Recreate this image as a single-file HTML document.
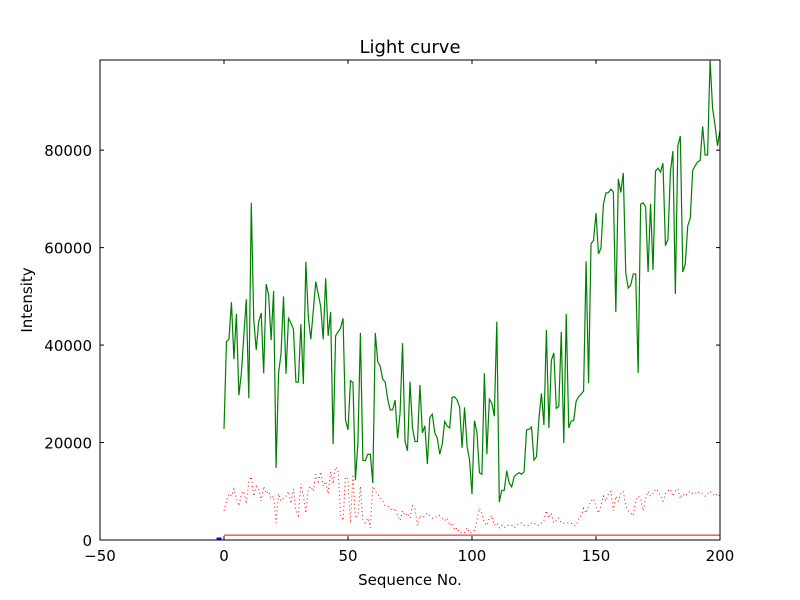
<!DOCTYPE html>
<html><head><meta charset="utf-8"><style>
body{margin:0;background:#fff;}
svg{display:block;font-family:"DejaVu Sans","Liberation Sans",sans-serif;}
</style></head><body>
<svg id="chart" width="800" height="600" xmlns="http://www.w3.org/2000/svg">
<rect width="800" height="600" fill="#fff"/>
<text x="410" y="53" font-size="18" text-anchor="middle">Light curve</text>
<text x="410" y="585" font-size="15" text-anchor="middle">Sequence No.</text>
<text transform="translate(32,300) rotate(-90)" font-size="15" text-anchor="middle">Intensity</text>
<g id="plot"></g>
</svg>
<script>
const xTicks=[-50,0,50,100,150,200];
const yTicks=[0,20000,40000,60000,80000];
const greenValues=[22800,40700,41200,48800,37100,46400,29700,34200,42000,49400,29100,69200,45100,39000,44800,46600,34200,52500,50300,41000,51100,14800,34200,38300,50000,34100,45500,44500,43300,32400,32400,44300,32000,57100,45800,41200,47000,53000,50500,47900,41200,53700,41900,46800,19700,41900,42700,43500,45500,24600,22600,32700,32300,12300,19900,42500,16300,16300,17600,17600,11700,42500,36600,35600,33000,32400,28900,26700,26700,28700,20900,26100,40400,20200,18300,32500,23000,20200,20200,31800,22000,23400,15600,25200,25800,22000,20900,17600,19700,24300,23400,23000,29300,29400,28700,27300,18900,27200,19300,16400,9400,24500,22100,13800,13500,34200,17600,28900,28100,25400,44800,7800,10200,10200,14200,11700,10900,13000,13500,13800,13500,14000,22600,22700,23200,16400,17100,25000,30100,23600,43100,23000,36900,38400,27000,27400,42700,19900,46400,23000,24400,24500,28500,29400,29900,30600,57200,32200,60800,61500,67100,58700,59900,68900,71200,71300,72000,71400,46800,74100,71300,75300,54800,51700,52300,54600,54600,34300,68900,69200,68400,55000,69000,55400,75700,76300,75500,77300,60400,61700,75500,79800,50500,80900,82900,55000,56600,64500,66000,75900,76800,77600,77900,84900,79000,79000,98500,88600,85100,80900,84100];
const redValues=[6000,8000,9500,9000,10500,8500,7000,9500,10000,7500,12000,13000,9000,11000,10500,8000,11000,9500,10000,8500,9000,3500,9500,8000,8500,9000,10000,7500,10500,6000,5000,11500,9000,5500,10500,11000,10000,13500,12000,14000,11000,12000,9500,14000,11500,15000,14500,5000,4000,13000,12500,3500,13500,4500,5000,11000,4000,3500,4500,2500,11000,10000,9500,8500,8000,7000,7000,6500,6000,6500,5000,4000,6000,5000,5500,4500,7000,6500,3000,5000,4500,5000,5500,5000,4500,4500,5000,5000,4500,4000,4500,3000,3500,2000,2500,1500,1500,1500,2500,1500,1500,2000,4000,6500,5500,3500,3000,4500,5000,3000,3500,2500,3000,2500,3000,3000,3000,2500,3000,3500,3500,3000,3000,3000,3500,3500,3000,3000,3500,4000,6000,4500,5500,3500,4000,4500,3500,3500,3500,3500,3500,3000,3000,4500,5000,6500,5500,7000,8000,8500,7000,5500,7000,9000,8000,9500,10000,6000,9000,8000,9500,10000,7000,6000,5500,5000,8000,9000,8500,6000,8500,10000,9000,9500,10500,10000,9000,8000,9500,10000,10500,9000,10000,10500,8500,9500,9000,9500,10000,9500,9500,10000,9500,9500,9000,9500,10000,9500,9000,9500,9000];
const baseLevel=1000;

const L=100,R=720,T=60,B=540,XMIN=-50,XMAX=200,YMIN=0,YMAX=98500;
const sx=v=>L+(v-XMIN)/(XMAX-XMIN)*(R-L);
const sy=v=>B-(v-YMIN)/(YMAX-YMIN)*(B-T);
const NS='http://www.w3.org/2000/svg';
const g=document.getElementById('plot');
function mk(t,a){const e=document.createElementNS(NS,t);for(const k in a)e.setAttribute(k,a[k]);g.appendChild(e);return e;}

const base=mk('line',{x1:sx(0),y1:sy(baseLevel),x2:sx(200),y2:sy(baseLevel),stroke:'#ff0000','stroke-width':1});



const rp=mk('polyline',{points:redValues.map((v,i)=>sx(i)+','+sy(v)).join(' '),fill:'none',stroke:'#ff0000','stroke-width':1,'stroke-dasharray':'1,3'});



const gp=mk('polyline',{points:greenValues.map((v,i)=>sx(i)+','+sy(v)).join(' '),fill:'none',stroke:'#008000','stroke-width':1.2});



const bm=mk('line',{x1:sx(-3),y1:sy(0)-1,x2:sx(-1),y2:sy(0)-1,stroke:'#0000ff','stroke-width':3});



const frame=mk('rect',{x:L,y:T,width:R-L,height:B-T,fill:'none',stroke:'#000','stroke-width':1});



xTicks.forEach(t=>{
  const x=sx(t);
  mk('line',{x1:x,y1:B,x2:x,y2:B-4,stroke:'#000'});
  mk('line',{x1:x,y1:T,x2:x,y2:T+4,stroke:'#000'});
  const tx=mk('text',{x:x,y:B+21,'font-size':15,'text-anchor':'middle'});
  tx.textContent=t===-50?'\u221250':String(t);
  
  
});
yTicks.forEach(t=>{
  const y=sy(t);
  mk('line',{x1:L,y1:y,x2:L+4,y2:y,stroke:'#000'});
  mk('line',{x1:R,y1:y,x2:R-4,y2:y,stroke:'#000'});
  const ty=mk('text',{x:L-8,y:y+6,'font-size':15,'text-anchor':'end'});
  ty.textContent=String(t);
  
  
});
</script>
</body></html>
